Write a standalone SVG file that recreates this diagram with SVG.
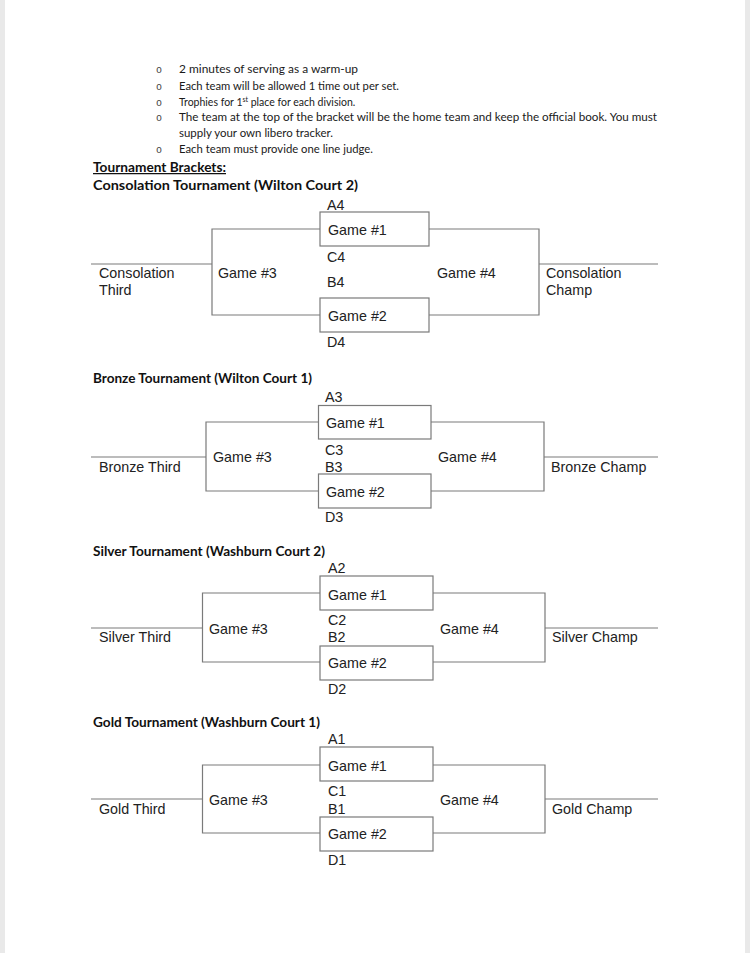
<svg xmlns="http://www.w3.org/2000/svg" width="750" height="953" viewBox="0 0 750 953">
<style>
.bg{fill:#ffffff}
.edge{fill:#e9e9e9}
.body{font-family:Lato,"Liberation Sans",sans-serif;font-size:10.5px;fill:#1a1a1a}
.bul{font-family:"Liberation Mono",monospace;font-size:10px;fill:#444}
.h{font-family:Lato,"Liberation Sans",sans-serif;font-size:12.5px;font-weight:bold;fill:#111}
.t{font-family:"Liberation Sans",Arial,sans-serif;font-size:14.3px;fill:#222}
.box{fill:#ffffff;stroke:#7a7a7a;stroke-width:1.2}
.ln{fill:none;stroke:#7a7a7a;stroke-width:1.2}
</style>
<rect class="bg" x="0" y="0" width="750" height="953"/>
<rect class="edge" x="0" y="0" width="5" height="953"/>
<rect class="edge" x="745" y="0" width="5" height="953"/>

<g id="notes">
<text class="bul" x="156" y="73">o</text>
<text class="body" x="179" y="73" textLength="179" lengthAdjust="spacingAndGlyphs">2 minutes of serving as a warm-up</text>
<text class="bul" x="156" y="90">o</text>
<text class="body" x="179" y="90" textLength="220" lengthAdjust="spacingAndGlyphs">Each team will be allowed 1 time out per set.</text>
<text class="bul" x="156" y="106">o</text>
<text class="body" x="179" y="106">Trophies for 1<tspan font-size="7" dy="-4">st</tspan><tspan dy="4"> place for each division.</tspan></text>
<text class="bul" x="156" y="121">o</text>
<text class="body" x="179" y="121" textLength="478" lengthAdjust="spacingAndGlyphs">The team at the top of the bracket will be the home team and keep the official book. You must</text>
<text class="body" x="179" y="137" textLength="154" lengthAdjust="spacingAndGlyphs">supply your own libero tracker.</text>
<text class="bul" x="156" y="153">o</text>
<text class="body" x="179" y="153" textLength="194" lengthAdjust="spacingAndGlyphs">Each team must provide one line judge.</text>
<text class="h" x="93" y="172" textLength="133" lengthAdjust="spacingAndGlyphs" text-decoration="underline">Tournament Brackets:</text>
</g>

<!-- Consolation bracket -->
<g id="consolation">
<text class="h" x="93" y="190" textLength="265" lengthAdjust="spacingAndGlyphs">Consolation Tournament (Wilton Court 2)</text>
<g id="connectors-1">
<line class="ln" x1="91" y1="264" x2="212" y2="264"/>
<polyline class="ln" points="320,229 212,229 212,315 320,315"/>
<polyline class="ln" points="429,229 539,229 539,315 429,315"/>
<line class="ln" x1="539" y1="264" x2="658" y2="264"/>
</g>
<g id="c-game1"><rect class="box" x="320" y="212" width="109" height="34"/><text class="t" x="328" y="235">Game #1</text></g>
<g id="c-game2"><rect class="box" x="320" y="298" width="109" height="34"/><text class="t" x="328" y="321">Game #2</text></g>
<g id="c-game3"><text class="t" x="218" y="278">Game #3</text></g>
<g id="c-game4"><text class="t" x="437" y="278">Game #4</text></g>
<g id="c-seeds">
<text class="t" x="327" y="210">A4</text>
<text class="t" x="327" y="262">C4</text>
<text class="t" x="327" y="287">B4</text>
<text class="t" x="327" y="347">D4</text>
</g>
<g id="c-third"><text class="t" x="99" y="278">Consolation</text><text class="t" x="99" y="295">Third</text></g>
<g id="c-champ"><text class="t" x="546" y="278">Consolation</text><text class="t" x="546" y="295">Champ</text></g>
</g>

<!-- Bronze bracket -->
<g id="bronze">
<text class="h" x="93" y="383" textLength="219" lengthAdjust="spacingAndGlyphs">Bronze Tournament (Wilton Court 1)</text>
<g id="connectors-2">
<line class="ln" x1="91" y1="457" x2="206" y2="457"/>
<polyline class="ln" points="318.5,422 206,422 206,491 318.5,491"/>
<polyline class="ln" points="431,422 544,422 544,491 431,491"/>
<line class="ln" x1="544" y1="457" x2="658" y2="457"/>
</g>
<g id="b-game1"><rect class="box" x="318.5" y="405.5" width="112.5" height="33.5"/><text class="t" x="326" y="428">Game #1</text></g>
<g id="b-game2"><rect class="box" x="318.5" y="474" width="112.5" height="34"/><text class="t" x="326" y="497">Game #2</text></g>
<g id="b-game3"><text class="t" x="213" y="462">Game #3</text></g>
<g id="b-game4"><text class="t" x="438" y="462">Game #4</text></g>
<g id="b-seeds">
<text class="t" x="325" y="402">A3</text>
<text class="t" x="325" y="455">C3</text>
<text class="t" x="325" y="472">B3</text>
<text class="t" x="325" y="522">D3</text>
</g>
<g id="b-third"><text class="t" x="99" y="472">Bronze Third</text></g>
<g id="b-champ"><text class="t" x="551" y="472">Bronze Champ</text></g>
</g>

<!-- Silver bracket -->
<g id="silver">
<text class="h" x="93" y="556" textLength="232" lengthAdjust="spacingAndGlyphs">Silver Tournament (Washburn Court 2)</text>
<g id="connectors-3">
<line class="ln" x1="91" y1="628" x2="202.5" y2="628"/>
<polyline class="ln" points="320,593 202.5,593 202.5,662 320,662"/>
<polyline class="ln" points="433,593 545,593 545,662 433,662"/>
<line class="ln" x1="545" y1="628" x2="658" y2="628"/>
</g>
<g id="s-game1"><rect class="box" x="320" y="576" width="113" height="34"/><text class="t" x="328" y="600">Game #1</text></g>
<g id="s-game2"><rect class="box" x="320" y="646" width="113" height="34"/><text class="t" x="328" y="668">Game #2</text></g>
<g id="s-game3"><text class="t" x="209" y="634">Game #3</text></g>
<g id="s-game4"><text class="t" x="440" y="634">Game #4</text></g>
<g id="s-seeds">
<text class="t" x="328" y="573">A2</text>
<text class="t" x="328" y="625">C2</text>
<text class="t" x="328" y="642">B2</text>
<text class="t" x="328" y="694">D2</text>
</g>
<g id="s-third"><text class="t" x="99" y="642">Silver Third</text></g>
<g id="s-champ"><text class="t" x="552" y="642">Silver Champ</text></g>
</g>

<!-- Gold bracket -->
<g id="gold">
<text class="h" x="93" y="727" textLength="227" lengthAdjust="spacingAndGlyphs">Gold Tournament (Washburn Court 1)</text>
<g id="connectors-4">
<line class="ln" x1="91" y1="799" x2="202.5" y2="799"/>
<polyline class="ln" points="320,765 202.5,765 202.5,833 320,833"/>
<polyline class="ln" points="433,765 545,765 545,833 433,833"/>
<line class="ln" x1="545" y1="799" x2="658" y2="799"/>
</g>
<g id="g-game1"><rect class="box" x="320" y="747" width="113" height="34"/><text class="t" x="328" y="771">Game #1</text></g>
<g id="g-game2"><rect class="box" x="320" y="817" width="113" height="34"/><text class="t" x="328" y="839">Game #2</text></g>
<g id="g-game3"><text class="t" x="209" y="805">Game #3</text></g>
<g id="g-game4"><text class="t" x="440" y="805">Game #4</text></g>
<g id="g-seeds">
<text class="t" x="328" y="744">A1</text>
<text class="t" x="328" y="796">C1</text>
<text class="t" x="328" y="814">B1</text>
<text class="t" x="328" y="865">D1</text>
</g>
<g id="g-third"><text class="t" x="99" y="814">Gold Third</text></g>
<g id="g-champ"><text class="t" x="552" y="814">Gold Champ</text></g>
</g>
</svg>
